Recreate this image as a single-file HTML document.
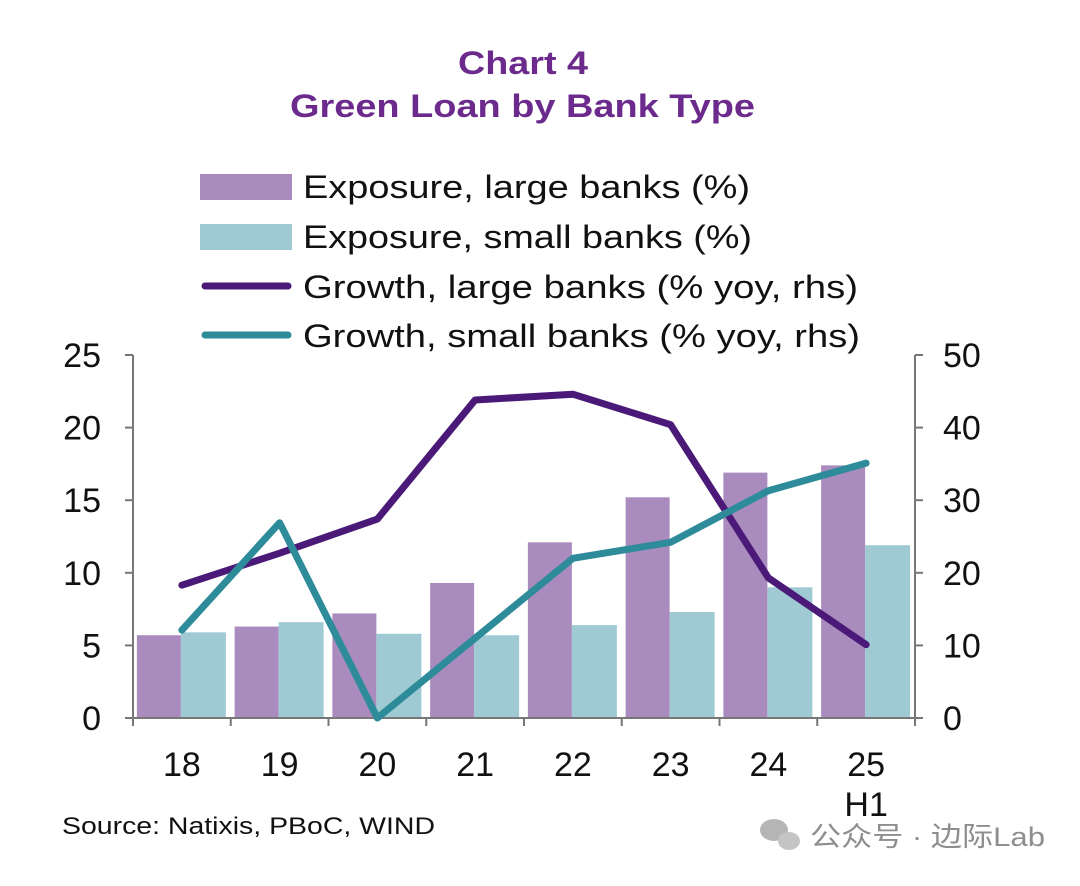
<!DOCTYPE html>
<html><head><meta charset="utf-8"><style>
body{margin:0;background:#fff;width:1080px;height:881px;overflow:hidden}
svg{font-family:"Liberation Sans","Noto Sans CJK SC",sans-serif}
</style></head><body>
<svg id="c" width="1080" height="881">
<text x="458" y="74" textLength="130" lengthAdjust="spacingAndGlyphs" font-size="32" font-weight="bold" fill="#6b2a8c">Chart 4</text>
<text x="290" y="117" textLength="465" lengthAdjust="spacingAndGlyphs" font-size="32" font-weight="bold" fill="#6b2a8c">Green Loan by Bank Type</text>
<g font-size="32" fill="#111">
<rect x="200" y="174" width="92" height="26" fill="#a98bbd"/>
<text x="303" y="198" textLength="447" lengthAdjust="spacingAndGlyphs">Exposure, large banks (%)</text>
<rect x="200" y="224" width="92" height="26" fill="#9fcad3"/>
<text x="303" y="248" textLength="449" lengthAdjust="spacingAndGlyphs">Exposure, small banks (%)</text>
<line x1="205" y1="286" x2="288" y2="286" stroke="#4b1a78" stroke-width="7" stroke-linecap="round"/>
<text x="303" y="298" textLength="555" lengthAdjust="spacingAndGlyphs">Growth, large banks (% yoy, rhs)</text>
<line x1="205" y1="335" x2="288" y2="335" stroke="#2e8b9a" stroke-width="7" stroke-linecap="round"/>
<text x="303" y="347" textLength="557" lengthAdjust="spacingAndGlyphs">Growth, small banks (% yoy, rhs)</text>
</g>
<g id="plot"></g>
<text x="62" y="834" textLength="373" lengthAdjust="spacingAndGlyphs" font-size="24" fill="#111">Source: Natixis, PBoC, WIND</text>
<g fill="#9a9a9a">
<ellipse cx="774" cy="830" rx="14" ry="11" fill="#b5b5b5"/>
<ellipse cx="789" cy="841" rx="11" ry="9" fill="#c5c5c5"/>
<text x="810" y="846" textLength="235" lengthAdjust="spacingAndGlyphs" font-size="27" fill="#8e8e8e">公众号 · 边际Lab</text>
</g>
</svg>
<script>
const categories=["18","19","20","21","22","23","24","25"];
const exposureLarge=[5.7,6.3,7.2,9.3,12.1,15.2,16.9,17.4];
const exposureSmall=[5.9,6.6,5.8,5.7,6.4,7.3,9.0,11.9];
const growthLarge=[18.3,22.7,27.4,43.8,44.6,40.4,19.3,10.1];
const growthSmall=[12.1,26.9,0,11,22,24.2,31.3,35.1];
const leftTicks=[0,5,10,15,20,25];
const rightTicks=[0,10,20,30,40,50];
const NS="http://www.w3.org/2000/svg";
const g=document.getElementById('plot');
const X0=133,X1=915,Y0=718,Y1=355;
const bw=(X1-X0)/categories.length;
const yL=v=>Y0-v/25*(Y0-Y1);
const yR=v=>Y0-v/50*(Y0-Y1);
const xc=i=>X0+bw*(i+0.5);
function el(t,a){const e=document.createElementNS(NS,t);for(const k in a)e.setAttribute(k,a[k]);g.appendChild(e);return e;}
categories.forEach((c,i)=>{
 let r=el('rect',{x:xc(i)-45,y:yL(exposureLarge[i]),width:44,height:Y0-yL(exposureLarge[i]),fill:'#a98bbd'});
 
 
 r=el('rect',{x:xc(i)-1,y:yL(exposureSmall[i]),width:45,height:Y0-yL(exposureSmall[i]),fill:'#9fcad3'});
 
 
 const t=el('text',{x:xc(i),y:776,'text-anchor':'middle','font-size':34,fill:'#111'});
 t.textContent=c;
 
 
});
const h=el('text',{x:xc(7),y:816,'text-anchor':'middle','font-size':34,fill:'#111'});h.textContent='H1';


let a=el('line',{x1:X0,y1:Y1,x2:X0,y2:Y0,stroke:'#777','stroke-width':2});


a=el('line',{x1:X1,y1:Y1,x2:X1,y2:Y0,stroke:'#777','stroke-width':2});


a=el('line',{x1:X0,y1:Y0,x2:X1,y2:Y0,stroke:'#777','stroke-width':2});


for(let i=0;i<=categories.length;i++){el('line',{x1:X0+bw*i,y1:Y0,x2:X0+bw*i,y2:Y0+8,stroke:'#777','stroke-width':2});}
leftTicks.forEach(v=>{
 el('line',{x1:X0-8,y1:yL(v),x2:X0,y2:yL(v),stroke:'#777','stroke-width':2});
 const t=el('text',{x:X0-32,y:yL(v)+12,'text-anchor':'end','font-size':34,fill:'#111'});t.textContent=v;
 
 
});
rightTicks.forEach(v=>{
 el('line',{x1:X1,y1:yR(v),x2:X1+8,y2:yR(v),stroke:'#777','stroke-width':2});
 const t=el('text',{x:X1+28,y:yR(v)+12,'text-anchor':'start','font-size':34,fill:'#111'});t.textContent=v;
 
 
});
function line(d,col,name){
 const p=el('polyline',{points:d.map((v,i)=>xc(i)+','+yR(v)).join(' '),fill:'none',stroke:col,'stroke-width':7,'stroke-linejoin':'round','stroke-linecap':'round'});
 
 
}
line(growthLarge,'#4b1a78','line-growth-large');
line(growthSmall,'#2e8b9a','line-growth-small');
</script>
</body></html>
